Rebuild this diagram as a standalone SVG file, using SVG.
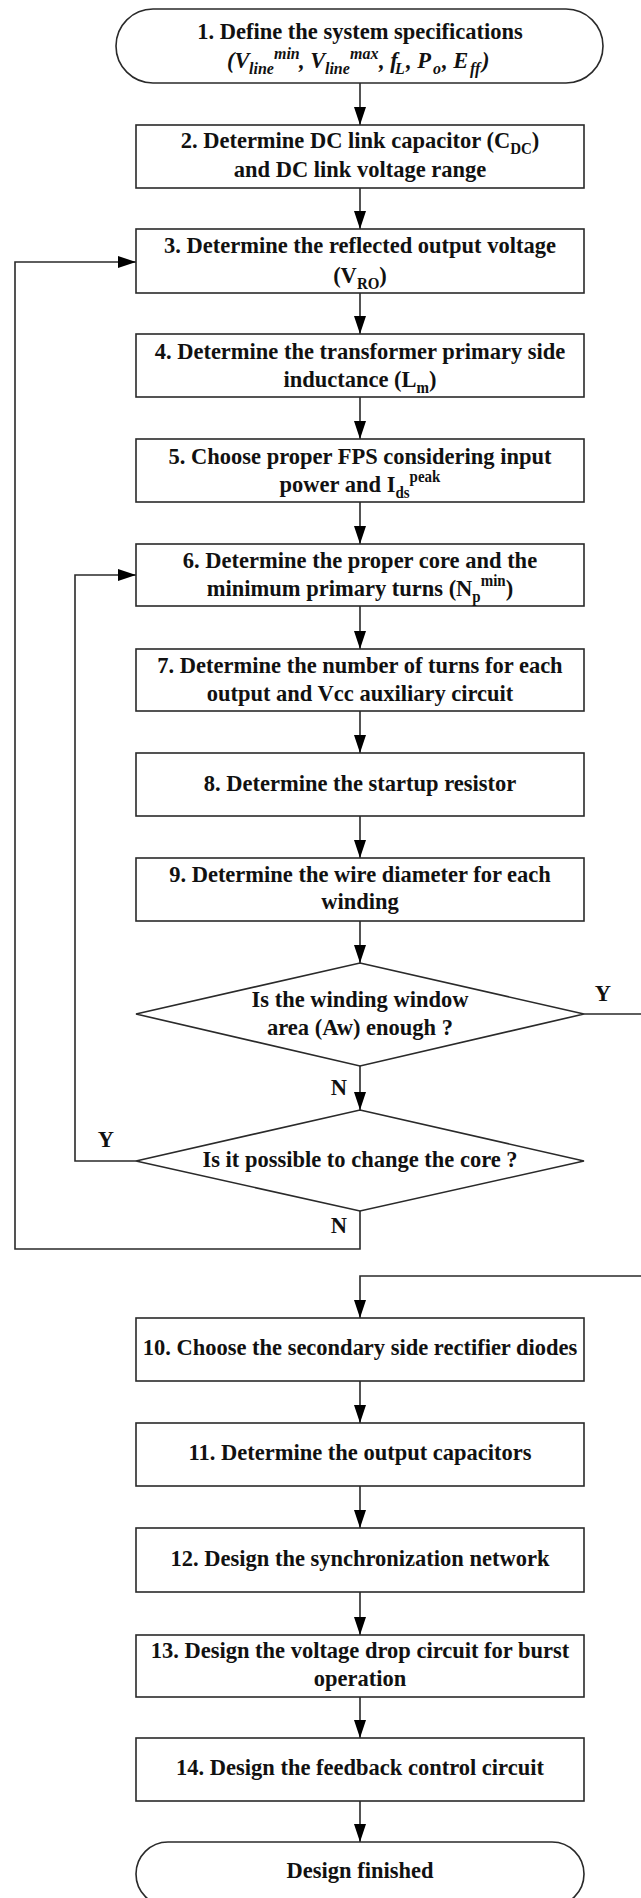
<svg xmlns="http://www.w3.org/2000/svg" width="641" height="1898" viewBox="0 0 641 1898">
<style>
.n{fill:#fff;stroke:#2a2a2a;stroke-width:1.6}
.t{font-family:"Liberation Serif","Times New Roman",serif;font-weight:bold;font-size:22.5px;fill:#111;text-anchor:middle}
.s{font-size:15px}
.i{font-size:16px}
.c{fill:none;stroke:#2a2a2a;stroke-width:1.6}
</style>
<defs>
<marker id="ah" markerUnits="userSpaceOnUse" markerWidth="18" markerHeight="12" refX="18" refY="6" orient="auto">
<path d="M0,0 L18,6 L0,12 z" fill="#000"/>
</marker>
</defs>
<rect width="641" height="1898" fill="#fff"/>
<g id="connectors">
<path class="c" d="M360,83 V125" marker-end="url(#ah)"/>
<path class="c" d="M360,188 V229" marker-end="url(#ah)"/>
<path class="c" d="M360,293 V334" marker-end="url(#ah)"/>
<path class="c" d="M360,397 V439" marker-end="url(#ah)"/>
<path class="c" d="M360,502 V544" marker-end="url(#ah)"/>
<path class="c" d="M360,606 V649" marker-end="url(#ah)"/>
<path class="c" d="M360,711 V753" marker-end="url(#ah)"/>
<path class="c" d="M360,816 V858" marker-end="url(#ah)"/>
<path class="c" d="M360,921 V963" marker-end="url(#ah)"/>
<path class="c" d="M360,1066 V1110" marker-end="url(#ah)"/>
<path class="c" d="M136,1161 H75 V575 H136" marker-end="url(#ah)"/>
<path class="c" d="M360,1211 V1249 H15 V262 H136" marker-end="url(#ah)"/>
<path class="c" d="M584,1014 H660 V1276 H360 V1318" marker-end="url(#ah)"/>
<path class="c" d="M360,1381 V1423" marker-end="url(#ah)"/>
<path class="c" d="M360,1486 V1528" marker-end="url(#ah)"/>
<path class="c" d="M360,1592 V1635" marker-end="url(#ah)"/>
<path class="c" d="M360,1697 V1738" marker-end="url(#ah)"/>
<path class="c" d="M360,1801 V1842" marker-end="url(#ah)"/>
<text class="t" x="603" y="1001" transform="matrix(1 0 0 1.07 0 -70.07)">Y</text>
<text class="t" x="339" y="1095" transform="matrix(1 0 0 1.07 0 -76.65)">N</text>
<text class="t" x="106" y="1147" transform="matrix(1 0 0 1.07 0 -80.29)">Y</text>
<text class="t" x="339" y="1233" transform="matrix(1 0 0 1.07 0 -86.31)">N</text>
</g>
<g id="n1">
<rect class="n" x="116" y="9" width="487" height="74" rx="37" ry="37"/>
<text class="t" x="360" y="39" transform="matrix(1 0 0 1.07 0 -2.73)">1. Define the system specifications</text>
<text class="t" y="68" font-style="italic" style="text-anchor:start" transform="matrix(1 0 0 1.07 0 -4.76)"><tspan x="227" y="68">(V</tspan><tspan class="i" x="249" y="74">line</tspan><tspan class="i" x="274" y="60">min</tspan><tspan x="299" y="68">, V</tspan><tspan class="i" x="325" y="74">line</tspan><tspan class="i" x="350" y="60">max</tspan><tspan x="379" y="68">, f</tspan><tspan class="i" x="395" y="74">L</tspan><tspan x="406" y="68">, P</tspan><tspan class="i" x="433" y="74">o</tspan><tspan x="442" y="68">, E</tspan><tspan class="i" x="470" y="74">ff</tspan><tspan x="482" y="68">)</tspan></text>
</g>
<g id="n2">
<rect class="n" x="136" y="125" width="448" height="63"/>
<text class="t" x="360" y="148" transform="matrix(1 0 0 1.07 0 -10.36)">2. Determine DC link capacitor (C<tspan class="s" dy="6">DC</tspan><tspan dy="-6">)</tspan></text>
<text class="t" x="360" y="177" transform="matrix(1 0 0 1.07 0 -12.39)">and DC link voltage range</text>
</g>
<g id="n3">
<rect class="n" x="136" y="229" width="448" height="64"/>
<text class="t" x="360" y="253" transform="matrix(1 0 0 1.07 0 -17.71)">3. Determine the reflected output voltage</text>
<text class="t" x="360" y="283" transform="matrix(1 0 0 1.07 0 -19.81)">(V<tspan class="s" dy="6">RO</tspan><tspan dy="-6">)</tspan></text>
</g>
<g id="n4">
<rect class="n" x="136" y="334" width="448" height="63"/>
<text class="t" x="360" y="359" transform="matrix(1 0 0 1.07 0 -25.13)">4. Determine the transformer primary side</text>
<text class="t" x="360" y="387" transform="matrix(1 0 0 1.07 0 -27.09)">inductance (L<tspan class="s" dy="6">m</tspan><tspan dy="-6">)</tspan></text>
</g>
<g id="n5">
<rect class="n" x="136" y="439" width="448" height="63"/>
<text class="t" x="360" y="464" transform="matrix(1 0 0 1.07 0 -32.48)">5. Choose proper FPS considering input</text>
<text class="t" x="360" y="492" transform="matrix(1 0 0 1.07 0 -34.44)">power and I<tspan class="s" dy="6">ds</tspan><tspan class="s" dy="-15">peak</tspan></text>
</g>
<g id="n6">
<rect class="n" x="136" y="544" width="448" height="62"/>
<text class="t" x="360" y="568" transform="matrix(1 0 0 1.07 0 -39.76)">6. Determine the proper core and the</text>
<text class="t" x="360" y="596" transform="matrix(1 0 0 1.07 0 -41.72)">minimum primary turns (N<tspan class="s" dy="6">p</tspan><tspan class="s" dy="-15">min</tspan><tspan dy="9">)</tspan></text>
</g>
<g id="n7">
<rect class="n" x="136" y="649" width="448" height="62"/>
<text class="t" x="360" y="673" transform="matrix(1 0 0 1.07 0 -47.11)">7. Determine the number of turns for each</text>
<text class="t" x="360" y="701" transform="matrix(1 0 0 1.07 0 -49.07)">output and Vcc auxiliary circuit</text>
</g>
<g id="n8">
<rect class="n" x="136" y="753" width="448" height="63"/>
<text class="t" x="360" y="791" transform="matrix(1 0 0 1.07 0 -55.37)">8. Determine the startup resistor</text>
</g>
<g id="n9">
<rect class="n" x="136" y="858" width="448" height="63"/>
<text class="t" x="360" y="882" transform="matrix(1 0 0 1.07 0 -61.74)">9. Determine the wire diameter for each</text>
<text class="t" x="360" y="909" transform="matrix(1 0 0 1.07 0 -63.63)">winding</text>
</g>
<g id="d1">
<polygon class="n" points="360,963 584,1014 360,1066 136,1014"/>
<text class="t" x="360" y="1007" transform="matrix(1 0 0 1.07 0 -70.49)">Is the winding window</text>
<text class="t" x="360" y="1035" transform="matrix(1 0 0 1.07 0 -72.45)">area (Aw) enough ?</text>
</g>
<g id="d2">
<polygon class="n" points="360,1110 584,1161 360,1211 136,1161"/>
<text class="t" x="360" y="1167" transform="matrix(1 0 0 1.07 0 -81.69)">Is it possible to change the core ?</text>
</g>
<g id="n10">
<rect class="n" x="136" y="1318" width="448" height="63"/>
<text class="t" x="360" y="1355" transform="matrix(1 0 0 1.07 0 -94.85)">10. Choose the secondary side rectifier diodes</text>
</g>
<g id="n11">
<rect class="n" x="136" y="1423" width="448" height="63"/>
<text class="t" x="360" y="1460" transform="matrix(1 0 0 1.07 0 -102.2)">11. Determine the output capacitors</text>
</g>
<g id="n12">
<rect class="n" x="136" y="1528" width="448" height="64"/>
<text class="t" x="360" y="1566" transform="matrix(1 0 0 1.07 0 -109.62)">12. Design the synchronization network</text>
</g>
<g id="n13">
<rect class="n" x="136" y="1635" width="448" height="62"/>
<text class="t" x="360" y="1658" transform="matrix(1 0 0 1.07 0 -116.06)">13. Design the voltage drop circuit for burst</text>
<text class="t" x="360" y="1686" transform="matrix(1 0 0 1.07 0 -118.02)">operation</text>
</g>
<g id="n14">
<rect class="n" x="136" y="1738" width="448" height="63"/>
<text class="t" x="360" y="1775" transform="matrix(1 0 0 1.07 0 -124.25)">14. Design the feedback control circuit</text>
</g>
<g id="end">
<rect class="n" x="136" y="1842" width="448" height="64" rx="32" ry="32"/>
<text class="t" x="360" y="1878" transform="matrix(1 0 0 1.07 0 -131.46)">Design finished</text>
</g>
</svg>
